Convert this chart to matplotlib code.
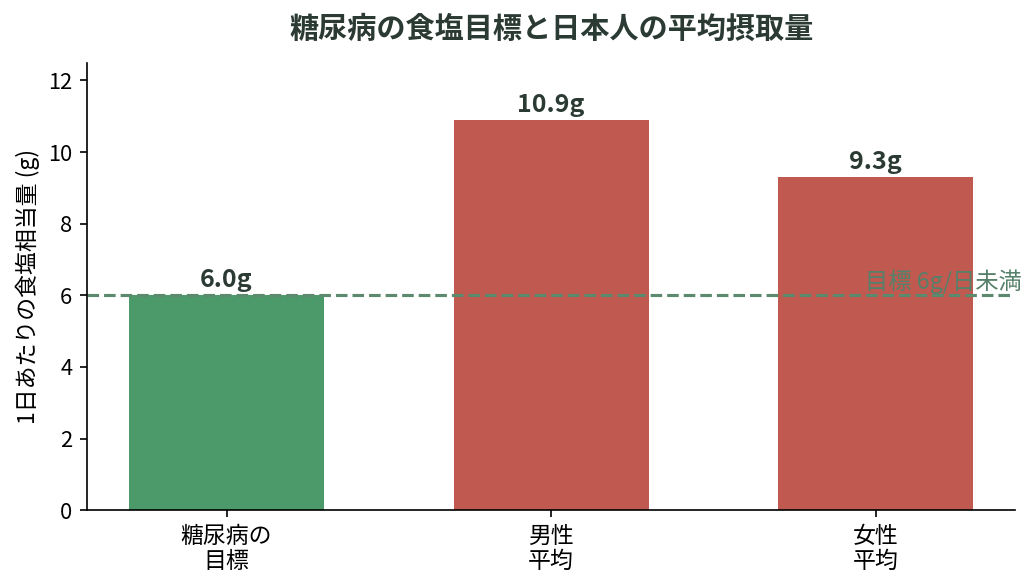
import matplotlib
matplotlib.use("Agg")
import matplotlib.pyplot as plt

plt.rcParams['font.family'] = ['Noto Sans CJK JP', 'DejaVu Sans']

# ---- data ----
categories = ["糖尿病の\n目標", "男性\n平均", "女性\n平均"]
values = [6.0, 10.9, 9.3]
bar_colors = ["#4c9a6a", "#c0594f", "#c0594f"]
target = 6.0
target_label = "目標 6g/日未満"

title_color = "#2b3a33"
line_color = "#5b8a6e"

fig, ax = plt.subplots(figsize=(6.9, 3.9), dpi=150)
plt.subplots_adjust(left=0.084, right=0.981, bottom=0.128, top=0.893)

x = list(range(len(categories)))
ax.bar(x, values, width=0.6, color=bar_colors)

for xi, v in zip(x, values):
    ax.text(xi, v + 0.08, f"{v:.1f}g", ha="center", va="bottom",
            fontsize=12, fontweight="bold", color=title_color)

ax.axhline(target, color=line_color, linestyle="--", linewidth=1.5)
ax.text(2.45, target + 0.05, target_label, ha="right", va="bottom",
        fontsize=11.2, color="#55806a")

ax.set_ylim(0, 12.5)
ax.set_xticks(x)
ax.set_xticklabels(categories, fontsize=11, linespacing=1.1)
ax.tick_params(axis="y", labelsize=10.5)
ax.set_ylabel("1日あたりの食塩相当量 (g)", fontsize=11)
ax.set_title("糖尿病の食塩目標と日本人の平均摂取量", fontsize=14,
             fontweight="bold", color=title_color, pad=12)

ax.spines["top"].set_visible(False)
ax.spines["right"].set_visible(False)

plt.savefig("out.png", dpi=150)
